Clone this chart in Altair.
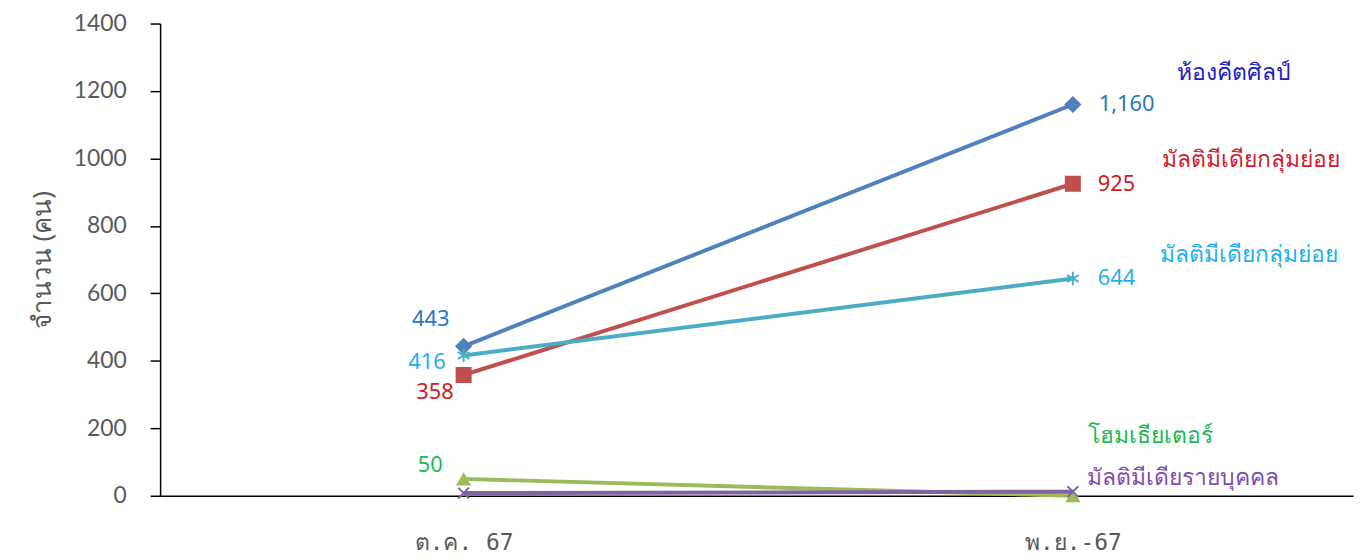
import altair as alt
import pandas as pd

months = ["ต.ค. 67", "พ.ย.-67"]
series_ids = ["s1", "s2", "s3", "s4", "s5"]
series_names = ["ห้องคีตศิลป์", "มัลติมีเดียกลุ่มย่อย", "มัลติมีเดียกลุ่มย่อย", "โฮมเธียเตอร์", "มัลติมีเดียรายบุคคล"]
oct_values = [443, 358, 416, 50, 8]
nov_values = [1160, 925, 644, 0, 12]
oct_labels = ["443", "358", "416", "50", ""]
nov_labels = ["1,160", "925", "644", "", ""]

line_colors = ["#4F81BD", "#C0504D", "#4BACC6", "#9BBB59", "#8064A2"]
label_colors = ["#2E75C6", "#D0202A", "#1FB0E8", "#1DB954", "#7A4FB0"]
name_colors = ["#2020C8", "#D0202A", "#1FB0E8", "#1DB954", "#7A4FB0"]

rows = []
for i, sid in enumerate(series_ids):
    rows.append({"id": sid, "name": series_names[i], "month": months[0], "value": oct_values[i], "label": oct_labels[i]})
    rows.append({"id": sid, "name": series_names[i], "month": months[1], "value": nov_values[i], "label": nov_labels[i]})
df = pd.DataFrame(rows)

x_enc = alt.X("month:N", sort=months,
              scale=alt.Scale(type="point", domain=months, padding=0.479, align=0.52),
              axis=alt.Axis(title=None, labelAngle=0, ticks=False, domainColor="#000000",
                            domainWidth=1.5, labelFont="DejaVu Sans Mono", labelFontSize=23,
                            labelFontWeight="normal", labelColor="#595959", labelPadding=36))
y_enc = alt.Y("value:Q",
              scale=alt.Scale(domain=[0, 1400], nice=False),
              axis=alt.Axis(title="จำนวน (คน)", values=[0, 200, 400, 600, 800, 1000, 1200, 1400],
                            format="d", grid=False, domainColor="#000000", domainWidth=1.5,
                            tickColor="#000000", tickSize=10, tickWidth=1.5,
                            labelFont="Lato", labelFontSize=23, labelFontWeight="normal",
                            labelColor="#595959", labelPadding=24,
                            titleFont="Noto Sans", titleFontSize=26, titleFontWeight="normal",
                            titleColor="#595959", titlePadding=18))

base = alt.Chart(df)
color_scale = alt.Scale(domain=series_ids, range=line_colors)

lines = base.mark_line(strokeWidth=4).encode(
    x=x_enc, y=y_enc,
    color=alt.Color("id:N", scale=color_scale, legend=None),
    detail="id:N",
)

layers = [lines]

asterisk = "M0,-1L0,1M-0.87,-0.5L0.87,0.5M-0.87,0.5L0.87,-0.5"
xmark = "M-1,-1L1,1M-1,1L1,-1"
marker_specs = [
    dict(shape="diamond", filled=True, size=300),
    dict(shape="square", filled=True, size=260),
    dict(shape=asterisk, filled=False, size=180, strokeWidth=2),
    dict(shape="triangle-up", filled=True, size=230),
    dict(shape=xmark, filled=False, size=120, strokeWidth=2),
]

oct_offsets = [("center", -33, -27), ("right", -10, 17), ("right", -18, 7), ("right", -21, -14), ("right", 0, 0)]
nov_offsets = [("left", 26, 0), ("left", 25, 0), ("left", 25, 0), ("left", 25, 0), ("left", 25, 0)]
name_offsets = [(105, -32), (90, -24), (88, -24), (15, -60), (14, -14)]

for i, sid in enumerate(series_ids):
    sub = base.transform_filter(alt.datum.id == sid)
    spec = marker_specs[i]
    pt = sub.mark_point(
        shape=spec["shape"], filled=spec["filled"], size=spec["size"],
        strokeWidth=spec.get("strokeWidth", 1), opacity=1,
        color=line_colors[i],
    ).encode(x=x_enc, y=y_enc)
    layers.append(pt)

    a, dx, dy = oct_offsets[i]
    t1 = sub.transform_filter(alt.datum.month == months[0]).mark_text(
        align=a, baseline="middle", dx=dx, dy=dy, fontSize=22, font="Noto Sans",
        color=label_colors[i]
    ).encode(x=x_enc, y=y_enc, text="label:N")
    a, dx, dy = nov_offsets[i]
    t2 = sub.transform_filter(alt.datum.month == months[1]).mark_text(
        align=a, baseline="middle", dx=dx, dy=dy, fontSize=22, font="Noto Sans",
        color=label_colors[i]
    ).encode(x=x_enc, y=y_enc, text="label:N")
    ndx, ndy = name_offsets[i]
    t3 = sub.transform_filter(alt.datum.month == months[1]).mark_text(
        align="left", baseline="middle", dx=ndx, dy=ndy, fontSize=23, font="Noto Sans",
        color=name_colors[i]
    ).encode(x=x_enc, y=y_enc, text="name:N")
    layers += [t1, t2, t3]

chart = alt.layer(*layers).properties(
    width=1200, height=475,
    autosize=alt.AutoSizeParams(type="none"),
    padding={"left": 153, "top": 14, "right": 5, "bottom": 65},
).configure_view(stroke=None)

chart.save("out.html", embed_options={"renderer": "svg", "actions": False})
